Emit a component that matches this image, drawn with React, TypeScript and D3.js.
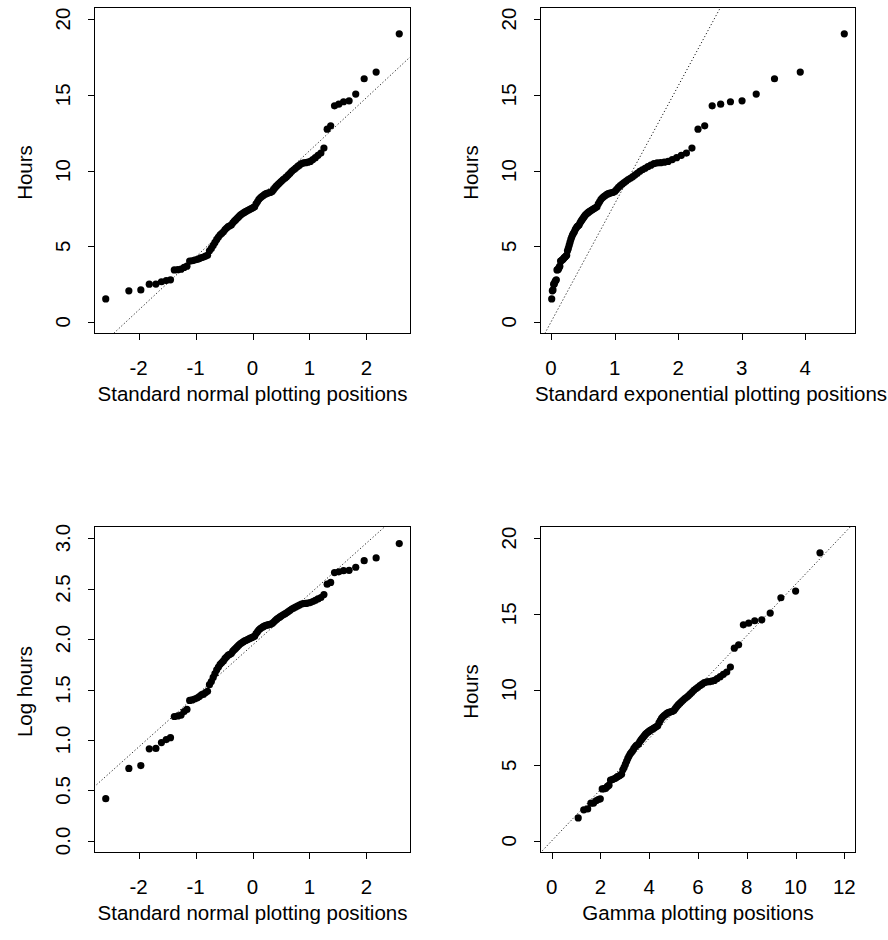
import React from "react";
import * as d3 from "d3";

// Sorted sample of hours, n = 100
const HOURS: number[] = [
  1.52, 2.05, 2.11, 2.49, 2.50, 2.65, 2.73, 2.78, 3.43, 3.45,
  3.48, 3.60, 3.68, 4.02, 4.04, 4.08, 4.12, 4.18, 4.25, 4.28,
  4.35, 4.40, 4.70, 4.85, 5.05, 5.25, 5.45, 5.60, 5.75, 5.85,
  5.95, 6.10, 6.20, 6.30, 6.35, 6.40, 6.55, 6.65, 6.75, 6.85,
  6.95, 7.05, 7.12, 7.18, 7.25, 7.30, 7.35, 7.40, 7.45, 7.50,
  7.55, 7.60, 7.80, 7.95, 8.10, 8.20, 8.28, 8.35, 8.42, 8.47,
  8.50, 8.53, 8.56, 8.62, 8.75, 8.88, 9.00, 9.10, 9.20, 9.30,
  9.40, 9.48, 9.58, 9.70, 9.82, 9.95, 10.05, 10.15, 10.25, 10.35,
  10.45, 10.50, 10.52, 10.55, 10.60, 10.72, 10.85, 11.00, 11.15, 11.48,
  12.73, 12.95, 14.27, 14.38, 14.54, 14.60, 15.05, 16.06, 16.50, 19.03,
];

// Gamma shape parameter used for the gamma plotting positions
const GAMMA_SHAPE = 4.6;

const HOURS_TICKS = [0, 5, 10, 15, 20];
const LOG_TICKS = [0, 0.5, 1, 1.5, 2, 2.5, 3];
const NORMAL_TICKS = [-2, -1, 0, 1, 2];
const EXP_TICKS = [0, 1, 2, 3, 4];
const GAMMA_TICKS = [0, 2, 4, 6, 8, 10, 12];

const X_LABELS = [
  "Standard normal plotting positions",
  "Standard exponential plotting positions",
  "Standard normal plotting positions",
  "Gamma plotting positions",
];
const Y_LABELS = ["Hours", "Hours", "Log hours", "Hours"];

// ---- distribution helpers ----
function qnorm(p: number): number {
  const a = [-39.69683028665376, 220.9460984245205, -275.9285104469687, 138.357751867269, -30.66479806614716, 2.506628277459239];
  const b = [-54.47609879822406, 161.5858368580409, -155.6989798598866, 66.80131188771972, -13.28068155288572];
  const c = [-0.007784894002430293, -0.3223964580411365, -2.400758277161838, -2.549732539343734, 4.374664141464968, 2.938163982698783];
  const d = [0.007784695709041462, 0.3224671290700398, 2.445134137142996, 3.754408661907416];
  const pl = 0.02425;
  if (p < pl) {
    const q = Math.sqrt(-2 * Math.log(p));
    return (((((c[0] * q + c[1]) * q + c[2]) * q + c[3]) * q + c[4]) * q + c[5]) / ((((d[0] * q + d[1]) * q + d[2]) * q + d[3]) * q + 1);
  }
  if (p > 1 - pl) {
    const q = Math.sqrt(-2 * Math.log(1 - p));
    return -(((((c[0] * q + c[1]) * q + c[2]) * q + c[3]) * q + c[4]) * q + c[5]) / ((((d[0] * q + d[1]) * q + d[2]) * q + d[3]) * q + 1);
  }
  const q = p - 0.5;
  const r = q * q;
  return (((((a[0] * r + a[1]) * r + a[2]) * r + a[3]) * r + a[4]) * r + a[5]) * q / (((((b[0] * r + b[1]) * r + b[2]) * r + b[3]) * r + b[4]) * r + 1);
}
function lgamma(x: number): number {
  const g = [76.18009172947146, -86.50532032941677, 24.01409824083091, -1.231739572450155, 0.1208650973866179e-2, -0.5395239384953e-5];
  let y = x;
  const tmp = x + 5.5 - (x + 0.5) * Math.log(x + 5.5);
  let ser = 1.000000000190015;
  for (let j = 0; j < 6; j++) ser += g[j] / ++y;
  return -tmp + Math.log((2.5066282746310005 * ser) / x);
}
function pgamma(x: number, a: number): number {
  if (x <= 0) return 0;
  if (x < a + 1) {
    let ap = a, sum = 1 / a, del = sum;
    for (let n = 0; n < 500; n++) { ap += 1; del *= x / ap; sum += del; if (Math.abs(del) < Math.abs(sum) * 1e-14) break; }
    return sum * Math.exp(-x + a * Math.log(x) - lgamma(a));
  }
  let b = x + 1 - a, c = 1e300, d = 1 / b, h = d;
  for (let i = 1; i < 500; i++) {
    const an = -i * (i - a); b += 2;
    d = an * d + b; if (Math.abs(d) < 1e-300) d = 1e-300;
    c = b + an / c; if (Math.abs(c) < 1e-300) c = 1e-300;
    d = 1 / d; const del = d * c; h *= del; if (Math.abs(del - 1) < 1e-14) break;
  }
  return 1 - Math.exp(-x + a * Math.log(x) - lgamma(a)) * h;
}
function qgamma(p: number, a: number): number {
  let lo = 0, hi = a + 60 * Math.sqrt(a) + 60;
  for (let i = 0; i < 200; i++) { const m = (lo + hi) / 2; if (pgamma(m, a) < p) lo = m; else hi = m; }
  return (lo + hi) / 2;
}

// ---- derived quantities ----
const n = HOURS.length;
const mean = d3.mean(HOURS) as number;
const sd = d3.deviation(HOURS) as number;
const logH = HOURS.map((h) => Math.log(h));
const meanLog = d3.mean(logH) as number;
const sdLog = d3.deviation(logH) as number;
const scaleG = mean / GAMMA_SHAPE;

const normalPos = HOURS.map((_, i) => qnorm((i + 1 - 0.5) / n));
const expPos = HOURS.map((_, i) => -Math.log(1 - (i + 1) / (n + 1)));
const gammaPos = HOURS.map((_, i) => qgamma((i + 1) / (n + 1), GAMMA_SHAPE));

function ext(lo: number, hi: number): [number, number] {
  const r = hi - lo;
  return [lo - 0.04 * r, hi + 0.04 * r];
}

type Panel = {
  left: number; top: number; w: number; h: number;
  xs: number[]; ys: number[];
  xDomain: [number, number]; yDomain: [number, number];
  xTicks: number[]; yTicks: number[]; yFmt: (v: number) => string;
  line: [number, number]; // intercept, slope
  xlab: string; ylab: string; xlabShift: number;
};

const fmtInt = (v: number) => String(v);
const fmt1 = (v: number) => v.toFixed(1);

const PANELS: Panel[] = [
  {
    left: 94, top: 7, w: 317, h: 327,
    xs: normalPos, ys: HOURS,
    xDomain: ext(d3.min(normalPos)!, d3.max(normalPos)!), yDomain: ext(0, 20),
    xTicks: NORMAL_TICKS, yTicks: HOURS_TICKS, yFmt: fmtInt,
    line: [mean, sd], xlab: X_LABELS[0], ylab: Y_LABELS[0], xlabShift: 0,
  },
  {
    left: 540, top: 7, w: 316, h: 327,
    xs: expPos, ys: HOURS,
    xDomain: ext(d3.min(expPos)!, d3.max(expPos)!), yDomain: ext(0, 20),
    xTicks: EXP_TICKS, yTicks: HOURS_TICKS, yFmt: fmtInt,
    line: [0, mean], xlab: X_LABELS[1], ylab: Y_LABELS[1], xlabShift: 13,
  },
  {
    left: 94, top: 526, w: 317, h: 327,
    xs: normalPos, ys: logH,
    xDomain: ext(d3.min(normalPos)!, d3.max(normalPos)!), yDomain: ext(0, 3),
    xTicks: NORMAL_TICKS, yTicks: LOG_TICKS, yFmt: fmt1,
    line: [meanLog, sdLog], xlab: X_LABELS[2], ylab: Y_LABELS[2], xlabShift: 0,
  },
  {
    left: 540, top: 526, w: 316, h: 327,
    xs: gammaPos, ys: HOURS,
    xDomain: ext(0, 12), yDomain: ext(0, 20),
    xTicks: GAMMA_TICKS, yTicks: HOURS_TICKS, yFmt: fmtInt,
    line: [0, scaleG], xlab: X_LABELS[3], ylab: Y_LABELS[3], xlabShift: 0,
  },
];

const FONT = "'Liberation Sans', Arial, Helvetica, sans-serif";
const FS = 20.5;

function PanelView({ p, idx }: { p: Panel; idx: number }) {
  const x = d3.scaleLinear().domain(p.xDomain).range([p.left, p.left + p.w]);
  const y = d3.scaleLinear().domain(p.yDomain).range([p.top + p.h, p.top]);
  const bottom = p.top + p.h;
  const cx = p.left + p.w / 2 + p.xlabShift;
  const cy = p.top + p.h / 2 + 2;
  const clipId = `clip${idx}`;
  const [x0, x1] = p.xDomain;
  const lineGen = d3.line<number>().x((v) => x(v)).y((v) => y(p.line[0] + p.line[1] * v));
  const xt = p.xTicks.filter((t) => t >= x0 && t <= x1);
  const yt = p.yTicks.filter((t) => t >= p.yDomain[0] && t <= p.yDomain[1]);
  return (
    <g>
      <defs>
        <clipPath id={clipId}>
          <rect x={p.left} y={p.top} width={p.w} height={p.h} />
        </clipPath>
      </defs>
      <g clipPath={`url(#${clipId})`}>
        <path d={lineGen([x0, x1]) || ""} fill="none" stroke="#222" strokeWidth={1} strokeDasharray="1.2 2.2" />
      </g>
      {p.xs.map((xv, i) => (
        <circle key={i} cx={x(xv)} cy={y(p.ys[i])} r={3.6} fill="#000" />
      ))}
      <rect x={p.left + 0.5} y={p.top + 0.5} width={p.w - 1} height={p.h - 1} fill="none" stroke="#000" strokeWidth={1} />
      {xt.map((t) => (
        <g key={"x" + t}>
          <line x1={Math.round(x(t)) + 0.5} x2={Math.round(x(t)) + 0.5} y1={bottom} y2={bottom + 6} stroke="#000" />
          <text x={x(t)} y={bottom + 41} textAnchor="middle" fontSize={FS} fontFamily={FONT}>{t < 0 ? "-" + Math.abs(t) : String(t)}</text>
        </g>
      ))}
      {yt.map((t) => (
        <g key={"y" + t}>
          <line x1={p.left - 6} x2={p.left} y1={Math.round(y(t)) + 0.5} y2={Math.round(y(t)) + 0.5} stroke="#000" />
          <text transform={`translate(${p.left - 24},${y(t)}) rotate(-90)`} textAnchor="middle" fontSize={FS} fontFamily={FONT}>{p.yFmt(t)}</text>
        </g>
      ))}
      <text x={cx} y={bottom + 67} textAnchor="middle" fontSize={FS} fontFamily={FONT}>{p.xlab}</text>
      <text transform={`translate(${p.left - 62},${cy}) rotate(-90)`} textAnchor="middle" fontSize={FS} fontFamily={FONT}>{p.ylab}</text>
    </g>
  );
}

export default function App() {
  return (
    <svg width={888} height={940} style={{ position: "absolute", left: 0, top: 0, background: "#fff" }}>
      <rect width={888} height={940} fill="#fff" />
      {PANELS.map((p, i) => (
        <PanelView key={i} p={p} idx={i} />
      ))}
    </svg>
  );
}
